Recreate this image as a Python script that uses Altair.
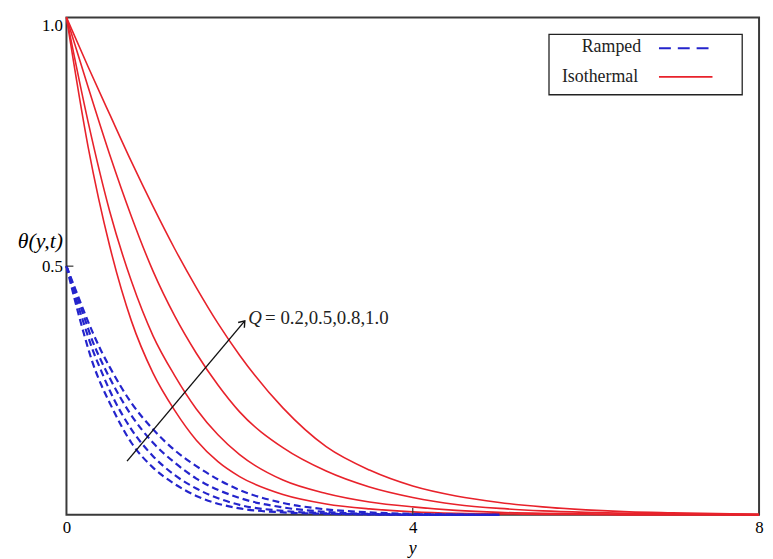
import altair as alt
import pandas as pd

# ---------------- data ----------------
Q_values = [0.2, 0.5, 0.8, 1.0]

# Isothermal (solid red) curves
x_iso = [0, 0.25, 0.5, 0.75, 1.0, 1.25, 1.5, 1.75, 2.0, 2.5, 3.0, 3.5, 4.0, 4.5, 5.0, 5.5, 6.0, 6.5, 7.0, 8.0]
iso_q02 = [1.0, 0.74, 0.54, 0.39, 0.285, 0.21, 0.15, 0.107, 0.077, 0.041, 0.022, 0.012, 0.006, 0.003, 0.002, 0.001, 0.001, 0.0, 0.0, 0.0]
iso_q05 = [1.0, 0.79, 0.61, 0.47, 0.36, 0.28, 0.213, 0.161, 0.121, 0.07, 0.043, 0.026, 0.016, 0.009, 0.005, 0.003, 0.002, 0.001, 0.001, 0.0]
iso_q08 = [1.0, 0.86, 0.724, 0.60, 0.49, 0.40, 0.325, 0.261, 0.207, 0.135, 0.088, 0.056, 0.035, 0.021, 0.013, 0.008, 0.005, 0.003, 0.002, 0.001]
iso_q10 = [1.0, 0.901, 0.805, 0.71, 0.62, 0.535, 0.457, 0.385, 0.321, 0.215, 0.137, 0.09, 0.058, 0.038, 0.025, 0.016, 0.010, 0.006, 0.004, 0.001]

# Ramped (dashed blue) curves
x_ramp = [0, 0.1, 0.2, 0.3, 0.4, 0.5, 0.75, 1.0, 1.25, 1.5, 2.0, 2.5, 3.0, 3.5, 4.0, 5.0]
ramp_q02 = [0.5, 0.43, 0.365, 0.307, 0.262, 0.225, 0.145, 0.095, 0.062, 0.038, 0.013, 0.005, 0.002, 0.001, 0.0, 0.0]
ramp_q05 = [0.5, 0.44, 0.385, 0.333, 0.29, 0.25, 0.172, 0.118, 0.08, 0.053, 0.02, 0.008, 0.003, 0.001, 0.0, 0.0]
ramp_q08 = [0.5, 0.45, 0.40, 0.35, 0.31, 0.275, 0.20, 0.145, 0.105, 0.073, 0.034, 0.015, 0.006, 0.002, 0.001, 0.0]
ramp_q10 = [0.5, 0.455, 0.41, 0.368, 0.33, 0.297, 0.225, 0.172, 0.13, 0.098, 0.05, 0.024, 0.011, 0.005, 0.002, 0.0]

x_ticks = [0, 4, 8]
y_ticks = [0.5, 1.0]

arrow_start = [0.70, 0.108]
arrow_end = [2.06, 0.39]
annotation_q = "Q"
annotation_rest = "= 0.2,0.5,0.8,1.0"

legend_labels = ["Ramped", "Isothermal"]

RED = "#e8222b"
BLUE = "#2424cc"
FONT = "Liberation Serif"

# ---------------- tables ----------------
iso_rows = []
for q, ys in zip(Q_values, [iso_q02, iso_q05, iso_q08, iso_q10]):
    for xv, yv in zip(x_iso, ys):
        iso_rows.append({"pos": xv, "theta": yv, "Q": q})
iso_df = pd.DataFrame(iso_rows)

ramp_rows = []
for q, ys in zip(Q_values, [ramp_q02, ramp_q05, ramp_q08, ramp_q10]):
    for xv, yv in zip(x_ramp, ys):
        ramp_rows.append({"pos": xv, "theta": yv, "Q": q})
ramp_df = pd.DataFrame(ramp_rows)

xscale = alt.Scale(domain=[0, 8], nice=False, zero=False)
yscale = alt.Scale(domain=[0, 1], nice=False, zero=False)

x_axis = alt.Axis(values=x_ticks, format="d", ticks=False, domain=False, grid=False,
                  labelFont=FONT, labelFontSize=17, labelColor="black", labelPadding=5,
                  labelFlush=False, labelAngle=0,
                  title="y", titleFont=FONT, titleFontSize=18, titleFontStyle="italic",
                  titleFontWeight="normal", titleColor="black", titleX=349, titleY=34,
                  titleBaseline="middle", titleAlign="center")
y_axis = alt.Axis(values=y_ticks, format=".1f", ticks=False, domain=False, grid=False,
                  labelFont=FONT, labelFontSize=17, labelColor="black", labelPadding=4,
                  labelFlush=True,
                  title="θ(y,t)", titleAngle=0, titleAlign="right", titleBaseline="middle",
                  titleX=-4, titleY=225, titleFont=FONT, titleFontSize=22,
                  titleFontStyle="italic", titleFontWeight="normal", titleColor="black")

base_x = alt.X("pos:Q", scale=xscale, axis=x_axis)
base_y = alt.Y("theta:Q", scale=yscale, axis=y_axis)

iso = alt.Chart(iso_df).mark_line(color=RED, strokeWidth=1.6, interpolate="monotone").encode(
    x=base_x, y=base_y, detail="Q:N")

ramp = alt.Chart(ramp_df).mark_line(color=BLUE, strokeWidth=2.2, strokeDash=[7, 4],
                                    interpolate="monotone").encode(
    x=alt.X("pos:Q", scale=xscale), y=alt.Y("theta:Q", scale=yscale), detail="Q:N")

# inward tick marks
xt_df = pd.DataFrame({"pos": [v for v in x_ticks if 0 < v < 8]})
xt = alt.Chart(xt_df).mark_rule(color="#333", strokeWidth=1.2).encode(
    x=alt.X("pos:Q", scale=xscale), y=alt.value(502), y2=alt.value(495))
yt_df = pd.DataFrame({"theta": [v for v in y_ticks if 0 < v < 1]})
yt = alt.Chart(yt_df).mark_rule(color="#333", strokeWidth=1.2).encode(
    y=alt.Y("theta:Q", scale=yscale), x=alt.value(0), x2=alt.value(7))

# arrow
arrow_df = pd.DataFrame({"x0": [arrow_start[0]], "y0": [arrow_start[1]],
                         "x1": [arrow_end[0]], "y1": [arrow_end[1]]})
arrow_line = alt.Chart(arrow_df).mark_rule(color="#111", strokeWidth=1.4).encode(
    x=alt.X("x0:Q", scale=xscale), y=alt.Y("y0:Q", scale=yscale),
    x2="x1:Q", y2="y1:Q")
arrow_head = alt.Chart(arrow_df).mark_point(
    shape="M-0.55,0.75L0,0L0.55,0.75", filled=False, color="#111", strokeWidth=1.4,
    size=220, angle=40, opacity=1).encode(
    x=alt.X("x1:Q", scale=xscale), y=alt.Y("y1:Q", scale=yscale))

ann_df = pd.DataFrame({"x": [arrow_end[0] + 0.04], "y": [arrow_end[1] + 0.006],
                       "q": [annotation_q], "rest": [annotation_rest]})
ann_q = alt.Chart(ann_df).mark_text(font=FONT, fontSize=19, fontStyle="italic", align="left",
                                    baseline="middle", color="#222").encode(
    x=alt.X("x:Q", scale=xscale), y=alt.Y("y:Q", scale=yscale), text="q:N")
ann_rest = alt.Chart(ann_df).mark_text(font=FONT, fontSize=19, align="left", dx=17,
                                       baseline="middle", color="#222").encode(
    x=alt.X("x:Q", scale=xscale), y=alt.Y("y:Q", scale=yscale), text="rest:N")

# legend (drawn by hand: labels left, samples right)
one = pd.DataFrame({"a": [0]})
leg_box = alt.Chart(one).mark_rect(fill="white", stroke="#222", strokeWidth=1.3).encode(
    x=alt.value(487), x2=alt.value(682), y=alt.value(17), y2=alt.value(78))
leg_df = pd.DataFrame({"label": legend_labels, "ly": [30, 60], "rx": [580, 577]})
leg_text = alt.Chart(leg_df).mark_text(font=FONT, fontSize=18, align="right",
                                       baseline="middle", color="#222").encode(
    x=alt.X("rx:Q", scale=None), y=alt.Y("ly:Q", scale=None), text="label:N")
leg_ramp = alt.Chart(one).mark_rule(color=BLUE, strokeWidth=2, strokeDash=[12, 7]).encode(
    x=alt.value(598), x2=alt.value(652), y=alt.value(31))
leg_iso = alt.Chart(one).mark_rule(color=RED, strokeWidth=1.6).encode(
    x=alt.value(598), x2=alt.value(652), y=alt.value(60))

chart = alt.layer(
    iso, ramp, xt, yt, arrow_line, arrow_head, ann_q, ann_rest,
    leg_box, leg_text, leg_ramp, leg_iso
).properties(
    width=699, height=502,
    autosize=alt.AutoSizeParams(type="none"),
    padding={"left": 59, "top": 7, "right": 6, "bottom": 42},
    background="white",
).configure_view(stroke="#3a3a3a", strokeWidth=2)

chart.save("out.html", embed_options={"renderer": "svg", "actions": False})
